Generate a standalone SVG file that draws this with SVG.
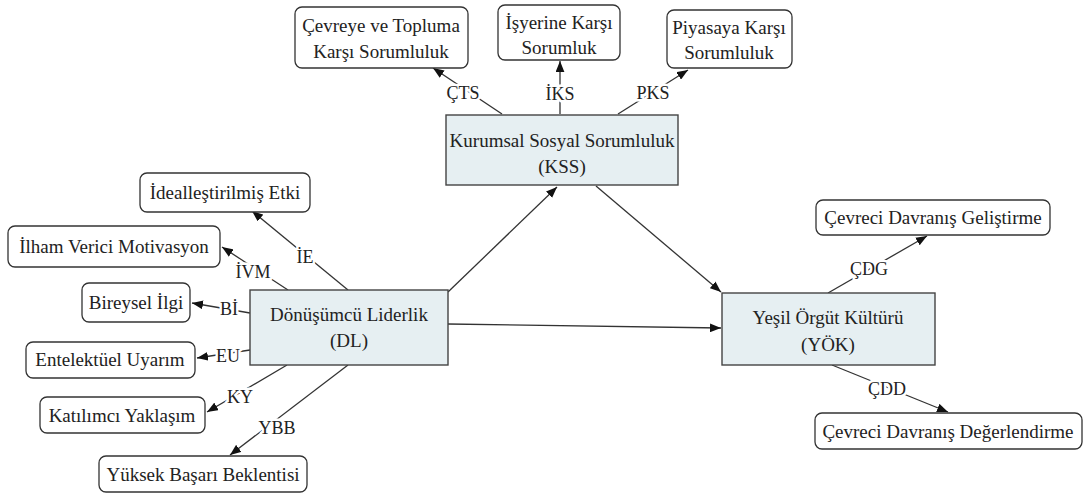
<svg xmlns="http://www.w3.org/2000/svg" width="1091" height="495" viewBox="0 0 1091 495" font-family="Liberation Serif, DejaVu Serif, serif">
<defs>
<marker id="ah" viewBox="0 0 10 8" refX="10" refY="4" markerWidth="11" markerHeight="9" markerUnits="userSpaceOnUse" orient="auto">
<path d="M0,0 L10,4 L0,8 Z" fill="#111"/>
</marker>
</defs>
<style>
.bx{fill:#fff;stroke:#333;stroke-width:1.3}
.mb{fill:#e6eff2;stroke:#444;stroke-width:1.4}
.t{font-size:19px;fill:#222;text-anchor:middle}
.l{font-size:18px;fill:#222;text-anchor:middle;stroke:#fff;stroke-width:5px;paint-order:stroke;stroke-linejoin:round}
.c{stroke:#333;stroke-width:1.3;fill:none;marker-end:url(#ah)}
</style>
<rect width="1091" height="495" fill="#fff"/>
<g id="connectors">
<line class="c" x1="502" y1="114" x2="433" y2="68"/>
<line class="c" x1="560" y1="114" x2="560" y2="61"/>
<line class="c" x1="618" y1="114" x2="688" y2="70"/>
<line class="c" x1="448" y1="292" x2="557" y2="187"/>
<line class="c" x1="596" y1="186" x2="721" y2="292"/>
<line class="c" x1="448" y1="324" x2="721" y2="328"/>
<line class="c" x1="348" y1="290" x2="252" y2="211"/>
<line class="c" x1="288" y1="290" x2="222" y2="247"/>
<line class="c" x1="250" y1="313" x2="192" y2="303"/>
<line class="c" x1="250" y1="350" x2="197" y2="358"/>
<line class="c" x1="287" y1="365" x2="207" y2="412"/>
<line class="c" x1="348" y1="365" x2="230" y2="455"/>
<line class="c" x1="828" y1="293" x2="927" y2="236"/>
<line class="c" x1="832" y1="365" x2="948" y2="412"/>
<text class="l" x="463" y="99">ÇTS</text>
<text class="l" x="560" y="100">İKS</text>
<text class="l" x="653" y="99">PKS</text>
<text class="l" x="305" y="263">İE</text>
<text class="l" x="253" y="278">İVM</text>
<text class="l" x="229" y="315">Bİ</text>
<text class="l" x="228" y="362">EU</text>
<text class="l" x="240" y="403">KY</text>
<text class="l" x="277" y="434">YBB</text>
<text class="l" x="869" y="275">ÇDG</text>
<text class="l" x="887" y="395">ÇDD</text>
</g>
<g id="kss">
<rect class="mb" x="446" y="115" width="232" height="70"/>
<text class="t" x="562" y="147">Kurumsal Sosyal Sorumluluk</text>
<text class="t" x="562" y="173">(KSS)</text>
</g>
<g id="dl">
<rect class="mb" x="250" y="290" width="198" height="75"/>
<text class="t" x="349" y="321">Dönüşümcü Liderlik</text>
<text class="t" x="349" y="347">(DL)</text>
</g>
<g id="yok">
<rect class="mb" x="722" y="293" width="213" height="72"/>
<text class="t" x="828" y="324">Yeşil Örgüt Kültürü</text>
<text class="t" x="828" y="351">(YÖK)</text>
</g>
<g id="cts">
<rect class="bx" x="295" y="7" width="173" height="61" rx="7"/>
<text class="t" x="381" y="32">Çevreye ve Topluma</text>
<text class="t" x="381" y="58">Karşı Sorumluluk</text>
</g>
<g id="iks">
<rect class="bx" x="498" y="5" width="122" height="55" rx="7"/>
<text class="t" x="559" y="29">İşyerine Karşı</text>
<text class="t" x="559" y="54">Sorumluk</text>
</g>
<g id="pks">
<rect class="bx" x="667" y="10" width="125" height="58" rx="7"/>
<text class="t" x="729" y="34">Piyasaya Karşı</text>
<text class="t" x="729" y="59">Sorumluluk</text>
</g>
<g id="ie">
<rect class="bx" x="140" y="173" width="170" height="39" rx="7"/>
<text class="t" x="225" y="199">İdealleştirilmiş Etki</text>
</g>
<g id="ivm">
<rect class="bx" x="8" y="226" width="212" height="41" rx="7"/>
<text class="t" x="114" y="253">İlham Verici Motivasyon</text>
</g>
<g id="bi">
<rect class="bx" x="82" y="283" width="108" height="39" rx="7"/>
<text class="t" x="136" y="309">Bireysel İlgi</text>
</g>
<g id="eu">
<rect class="bx" x="26" y="342" width="169" height="36" rx="7"/>
<text class="t" x="110" y="366">Entelektüel Uyarım</text>
</g>
<g id="ky">
<rect class="bx" x="40" y="397" width="165" height="36" rx="7"/>
<text class="t" x="122" y="422">Katılımcı Yaklaşım</text>
</g>
<g id="ybb">
<rect class="bx" x="99" y="456" width="208" height="36" rx="7"/>
<text class="t" x="203" y="481">Yüksek Başarı Beklentisi</text>
</g>
<g id="cdg">
<rect class="bx" x="816" y="200" width="234" height="35" rx="7"/>
<text class="t" x="933" y="224">Çevreci Davranış Geliştirme</text>
</g>
<g id="cdd">
<rect class="bx" x="815" y="413" width="267" height="36" rx="7"/>
<text class="t" x="948" y="438">Çevreci Davranış Değerlendirme</text>
</g>
</svg>
